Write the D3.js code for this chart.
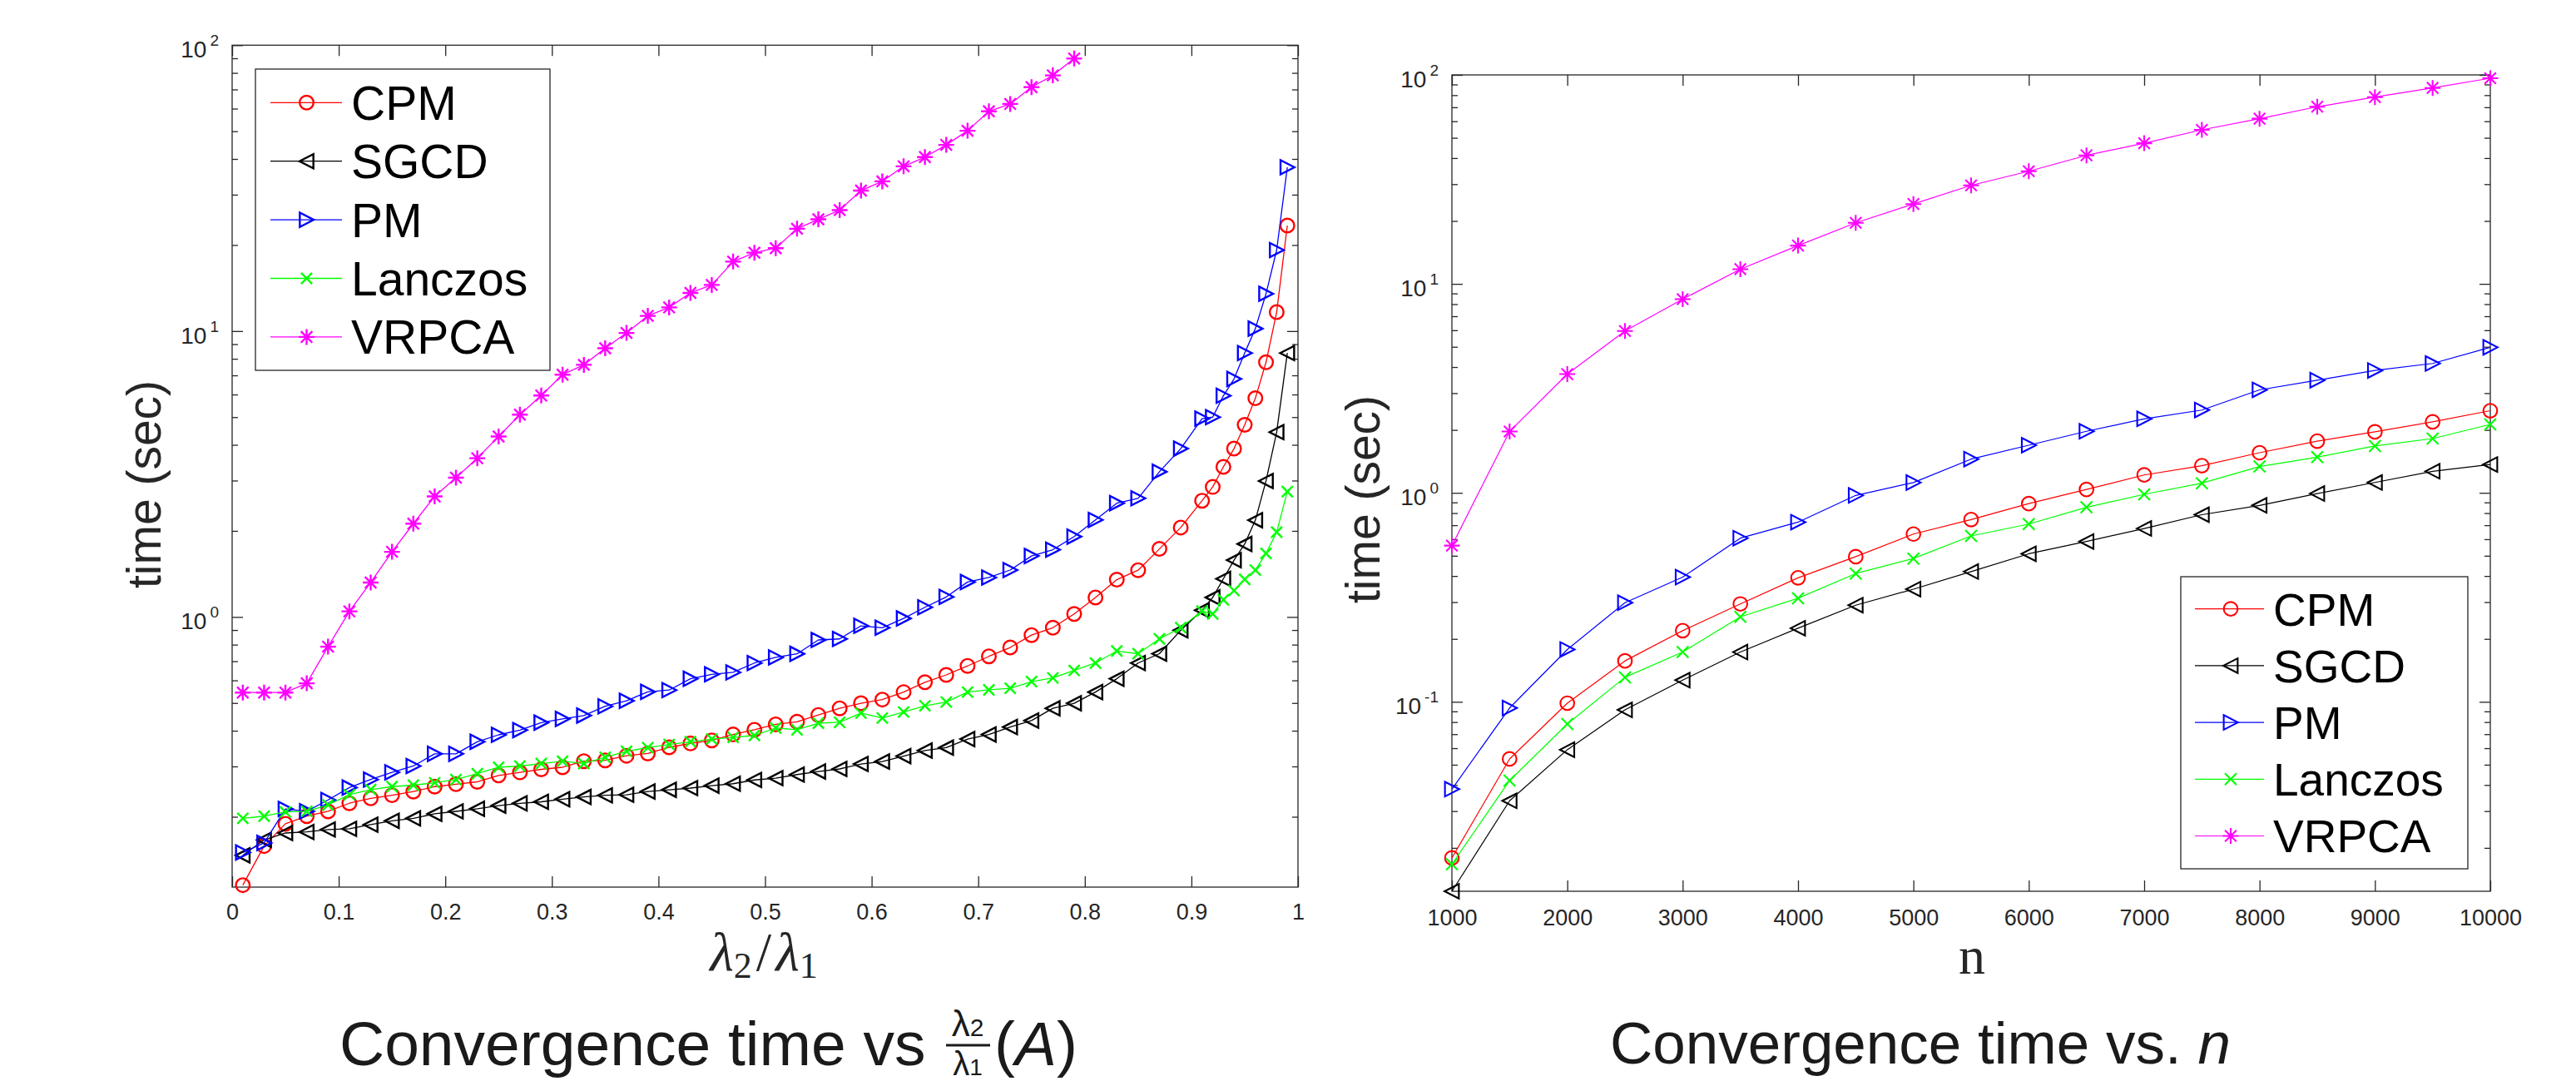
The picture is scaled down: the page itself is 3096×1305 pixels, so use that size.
<!DOCTYPE html>
<html>
<head>
<meta charset="utf-8">
<script src="https://cdn.jsdelivr.net/npm/d3@7"></script>
<style>
html,body{margin:0;padding:0;background:#fff;}
svg{display:block;}
text{font-family:"Liberation Sans",Arial,Helvetica,sans-serif;}
</style>
</head>
<body>
<svg id="chart" width="3096" height="1305" xmlns="http://www.w3.org/2000/svg"></svg>
<script>
// ---------------- data ----------------
const seriesNames = ["CPM", "SGCD", "PM", "Lanczos", "VRPCA"];
const seriesColors = ["#ff0000", "#000000", "#0000ff", "#00ff00", "#ff00ff"];
const seriesMarkers = ["circle", "triLeft", "triRight", "cross", "star"];

// left panel: x = lambda2/lambda1
const ratio = [0.01,0.03,0.05,0.07,0.09,0.11,0.13,0.15,0.17,0.19,0.21,0.23,0.25,0.27,0.29,0.31,0.33,0.35,0.37,0.39,
  0.41,0.43,0.45,0.47,0.49,0.51,0.53,0.55,0.57,0.59,0.61,0.63,0.65,0.67,0.69,0.71,0.73,0.75,0.77,0.79,
  0.81,0.83,0.85,0.87,0.89,0.91,0.92,0.93,0.94,0.95,0.96,0.97,0.98,0.99];
const ratioCPM = [0.1153,0.158,0.189,0.201,0.209,0.223,0.232,0.238,0.245,0.255,0.260,0.265,0.279,0.286,0.293,0.298,0.313,0.315,0.327,0.333,
  0.350,0.361,0.370,0.388,0.403,0.421,0.430,0.454,0.479,0.499,0.514,0.546,0.591,0.627,0.674,0.728,0.782,0.864,0.917,1.024,
  1.17,1.35,1.457,1.73,2.055,2.55,2.85,3.35,3.88,4.70,5.82,7.78,11.65,23.4];
const ratioSGCD = [0.1466,0.166,0.1755,0.177,0.1805,0.1815,0.1877,0.1936,0.1975,0.2048,0.2089,0.2133,0.2188,0.2228,0.2256,0.2304,0.2346,0.2377,0.2388,0.2451,
  0.2485,0.252,0.257,0.261,0.269,0.273,0.281,0.288,0.294,0.306,0.312,0.326,0.341,0.349,0.374,0.388,0.412,0.434,0.479,0.499,
  0.546,0.608,0.690,0.744,0.898,1.056,1.17,1.36,1.58,1.80,2.18,2.99,4.43,8.38];
const ratioPM = [0.150,0.162,0.213,0.209,0.229,0.253,0.270,0.286,0.301,0.332,0.332,0.366,0.387,0.402,0.427,0.440,0.452,0.487,0.509,0.547,
  0.555,0.608,0.630,0.640,0.690,0.722,0.743,0.831,0.838,0.931,0.917,0.988,1.081,1.175,1.325,1.374,1.459,1.634,1.719,1.91,
  2.185,2.5,2.6,3.22,3.88,4.94,5.0,5.94,6.80,8.38,10.2,13.5,19.2,37.4];
const ratioLanczos = [0.1975,0.201,0.208,0.209,0.220,0.239,0.249,0.255,0.258,0.263,0.270,0.283,0.298,0.301,0.307,0.313,0.307,0.323,0.339,0.349,
  0.358,0.366,0.374,0.379,0.385,0.409,0.403,0.425,0.428,0.461,0.443,0.465,0.489,0.504,0.546,0.556,0.563,0.594,0.612,0.650,
  0.690,0.760,0.744,0.838,0.917,1.049,1.024,1.148,1.237,1.353,1.458,1.668,1.98,2.745];
const ratioVRPCA = [0.544,0.544,0.544,0.586,0.787,1.046,1.32,1.69,2.12,2.64,3.07,3.59,4.28,5.1,5.95,7.04,7.62,8.71,9.85,11.3,
  12.1,13.6,14.5,17.5,18.8,19.5,22.8,24.6,26.5,31.0,33.4,37.7,40.6,44.8,50.2,58.7,62.3,71.3,78.4,89.8];

// right panel: x = n
const dimN = [1000,1500,2000,2500,3000,3500,4000,4500,5000,5500,6000,6500,7000,7500,8000,8500,9000,9500,10000];
const dimCPM = [0.0179,0.0533,0.0985,0.157,0.219,0.294,0.392,0.495,0.635,0.745,0.888,1.038,1.218,1.349,1.556,1.768,1.958,2.187,2.472];
const dimSGCD = [0.0124,0.0336,0.059,0.0915,0.127,0.173,0.225,0.290,0.346,0.420,0.511,0.585,0.675,0.786,0.871,0.992,1.121,1.268,1.366];
const dimPM = [0.0382,0.0934,0.178,0.298,0.395,0.607,0.724,0.972,1.12,1.45,1.69,1.97,2.26,2.49,3.11,3.46,3.85,4.16,4.97];
const dimLanczos = [0.0167,0.042,0.0783,0.131,0.173,0.255,0.313,0.411,0.485,0.622,0.709,0.853,0.984,1.112,1.337,1.482,1.676,1.819,2.126];
const dimVRPCA = [0.559,1.966,3.70,5.95,8.45,11.76,15.25,19.6,24.1,29.6,34.6,41.2,47.1,54.6,61.7,70.4,78.3,86.6,96.4];

// ticks
const ratioTicks = [0,0.1,0.2,0.3,0.4,0.5,0.6,0.7,0.8,0.9,1];
const ratioTickLabels = ["0","0.1","0.2","0.3","0.4","0.5","0.6","0.7","0.8","0.9","1"];
const dimTicks = [1000,2000,3000,4000,5000,6000,7000,8000,9000,10000];
const dimTickLabels = ["1000","2000","3000","4000","5000","6000","7000","8000","9000","10000"];
const leftYTicks = [1,10,100];
const leftYExp = ["0","1","2"];
const rightYTicks = [0.1,1,10,100];
const rightYExp = ["-1","0","1","2"];

// ---------------- drawing ----------------
const svg = d3.select("#chart");
const AX = "#262626";

const markerShape = {
  circle: s => d3.symbol(d3.symbolCircle, Math.PI * s * s)(),
  triLeft: s => `M${-s},0L${s * 0.95},${-s}L${s * 0.95},${s}Z`,
  triRight: s => `M${s},0L${-s * 0.95},${-s}L${-s * 0.95},${s}Z`,
  cross: s => `M${-s},${-s}L${s},${s}M${-s},${s}L${s},${-s}`,
  star: s => { const d = s * 0.72; return `M${-s},0L${s},0M0,${-s}L0,${s}M${-d},${-d}L${d},${d}M${-d},${d}L${d},${-d}`; }
};

function drawPanel(p) {
  const x = p.x, y = p.y;
  const [xl, xr] = x.range();
  const [yb, yt] = y.range();
  const g = svg.append("g");

  const axStyle = sel => {
    sel.select(".domain").remove();
    sel.selectAll("line").attr("stroke", AX).attr("stroke-width", 1.3);
    sel.selectAll("text").attr("fill", AX).style("font-size", p.tickFont + "px")
      .style("font-family", "'Liberation Sans', Arial, sans-serif");
  };
  const none = () => "";

  g.append("g").attr("transform", `translate(0,${yb})`)
    .call(d3.axisBottom(x).tickValues(p.xTicks).tickFormat((d, i) => p.xTickLabels[i])
      .tickSizeInner(-13).tickSizeOuter(0).tickPadding(p.xPad)).call(axStyle);
  g.append("g").attr("transform", `translate(0,${yt})`)
    .call(d3.axisTop(x).tickValues(p.xTicks).tickFormat(none).tickSizeInner(-13).tickSizeOuter(0)).call(axStyle);

  const [d0, d1] = y.domain();
  const major = p.yTicks.filter(t => t >= d0 && t <= d1);
  const minor = y.ticks().filter(v => !p.yTicks.some(t => Math.abs(t - v) / t < 1e-6));
  [[d3.axisLeft, xl], [d3.axisRight, xr]].forEach(([mk, xp]) => {
    g.append("g").attr("transform", `translate(${xp},0)`)
      .call(mk(y).tickValues(major).tickFormat(none).tickSizeInner(-13).tickSizeOuter(0)).call(axStyle);
    g.append("g").attr("transform", `translate(${xp},0)`)
      .call(mk(y).tickValues(minor).tickFormat(none).tickSizeInner(-7).tickSizeOuter(0)).call(axStyle);
  });
  g.append("rect").attr("x", xl).attr("y", yt).attr("width", xr - xl).attr("height", yb - yt)
    .attr("fill", "none").attr("stroke", AX).attr("stroke-width", 1.3);

  // y tick labels 10^k
  p.yTicks.forEach((t, i) => {
    const yy = y(t);
    const e = g.append("text").attr("x", xl - 16).attr("y", yy + 1).attr("text-anchor", "end")
      .style("font-size", "19px").attr("fill", AX).text(p.yExp[i]);
    const w = e.node().getComputedTextLength();
    g.append("text").attr("x", xl - 16 - w - 4).attr("y", yy + 15).attr("text-anchor", "end")
      .style("font-size", p.yFont + "px").attr("fill", AX).text("10");
  });

  // series
  const line = d3.line().x(d => x(d[0])).y(d => y(d[1]));
  p.series.forEach((vals, i) => {
    const pts = vals.map((v, j) => [p.xs[j], v]);
    g.append("path").datum(pts).attr("fill", "none").attr("stroke", seriesColors[i])
      .attr("stroke-width", p.lw).attr("stroke-linejoin", "round").attr("d", line);
    g.append("g").selectAll("path").data(pts).join("path")
      .attr("transform", d => `translate(${x(d[0])},${y(d[1])})`)
      .attr("d", markerShape[seriesMarkers[i]](p.ms[i]))
      .attr("fill", "none").attr("stroke", seriesColors[i]).attr("stroke-width", p.mw)
      .attr("stroke-linejoin", "miter");
  });

  // legend
  const L = p.legend;
  const lg = svg.append("g");
  lg.append("rect").attr("x", L.x0).attr("y", L.y0).attr("width", L.x1 - L.x0).attr("height", L.y1 - L.y0)
    .attr("fill", "#fff").attr("stroke", AX).attr("stroke-width", 1.3);
  seriesNames.forEach((name, i) => {
    const ry = L.firstY + i * L.step;
    lg.append("line").attr("x1", L.x0 + L.lineA).attr("x2", L.x0 + L.lineB).attr("y1", ry).attr("y2", ry)
      .attr("stroke", seriesColors[i]).attr("stroke-width", p.lw);
    lg.append("path").attr("transform", `translate(${L.x0 + L.mark},${ry})`)
      .attr("d", markerShape[seriesMarkers[i]](p.ms[i])).attr("fill", "none")
      .attr("stroke", seriesColors[i]).attr("stroke-width", p.mw);
    lg.append("text").attr("x", L.x0 + L.textX).attr("y", ry + L.font * 0.36)
      .style("font-size", L.font + "px").attr("fill", "#000").text(name);
  });
}

// left panel
const xL = d3.scaleLinear().domain([0, 1]).range([279, 1560]);
const yL = d3.scaleLog().domain([0.1135, 100]).range([1066, 54.3]);
drawPanel({
  x: xL, y: yL, xs: ratio,
  series: [ratioCPM, ratioSGCD, ratioPM, ratioLanczos, ratioVRPCA],
  xTicks: ratioTicks, xTickLabels: ratioTickLabels, xPad: 20, tickFont: 27, yFont: 28,
  yTicks: leftYTicks, yExp: leftYExp,
  lw: 1.3, mw: 2.4, ms: [8.3, 8.6, 8.6, 6.6, 9.5],
  legend: { x0: 307, y0: 83, x1: 661, y1: 445, firstY: 123.3, step: 70.4, lineA: 18, lineB: 104, mark: 61.5, textX: 115, font: 57 }
});

// right panel
const xR = d3.scaleLinear().domain([1000, 10000]).range([1745, 2993]);
const yR = d3.scaleLog().domain([0.0124, 100]).range([1071, 90]);
drawPanel({
  x: xR, y: yR, xs: dimN,
  series: [dimCPM, dimSGCD, dimPM, dimLanczos, dimVRPCA],
  xTicks: dimTicks, xTickLabels: dimTickLabels, xPad: 22, tickFont: 27, yFont: 28,
  yTicks: rightYTicks, yExp: rightYExp,
  lw: 1.2, mw: 2.1, ms: [8.3, 8.8, 8.8, 7, 9.5],
  legend: { x0: 2621, y0: 693, x1: 2966, y1: 1044, firstY: 731.7, step: 68.2, lineA: 17, lineB: 100, mark: 60, textX: 111, font: 55 }
});

// axis labels
svg.append("text").attr("transform", "translate(193,582) rotate(-90)").attr("text-anchor", "middle")
  .style("font-size", "57px").attr("fill", AX).text("time (sec)");
svg.append("text").attr("transform", "translate(1658,600) rotate(-90)").attr("text-anchor", "middle")
  .style("font-size", "57px").attr("fill", AX).text("time (sec)");

const xlab = svg.append("text").attr("x", 918).attr("y", 1166).attr("text-anchor", "middle")
  .style("font-family", "'Liberation Serif', 'DejaVu Serif', serif").style("font-size", "66px").attr("fill", AX);
xlab.append("tspan").style("font-style", "italic").text("λ");
xlab.append("tspan").attr("dy", 9).style("font-size", "44px").text("2");
xlab.append("tspan").attr("dy", -9).attr("dx", 5).text("/");
xlab.append("tspan").attr("dx", 5).style("font-style", "italic").text("λ");
xlab.append("tspan").attr("dy", 9).style("font-size", "44px").text("1");

svg.append("text").attr("x", 2370).attr("y", 1170).attr("text-anchor", "middle")
  .style("font-family", "'Liberation Serif', 'DejaVu Serif', serif").style("font-size", "64px").attr("fill", AX).text("n");

// captions
const CAP = "#1a1a1a";
svg.append("text").attr("x", 408).attr("y", 1280).style("font-size", "75px").attr("fill", CAP).text("Convergence time vs");
const num = svg.append("text").attr("x", 1163).attr("y", 1245).attr("text-anchor", "middle").style("font-size", "44px").attr("fill", CAP);
num.append("tspan").text("λ");
num.append("tspan").style("font-size", "30px").text("2");
svg.append("line").attr("x1", 1137).attr("x2", 1190).attr("y1", 1256).attr("y2", 1256).attr("stroke", CAP).attr("stroke-width", 3);
const den = svg.append("text").attr("x", 1163).attr("y", 1292).attr("text-anchor", "middle").style("font-size", "40px").attr("fill", CAP);
den.append("tspan").text("λ");
den.append("tspan").style("font-size", "28px").text("1");
const capA = svg.append("text").attr("x", 1195).attr("y", 1280).style("font-size", "75px").attr("fill", CAP);
capA.append("tspan").text("(");
capA.append("tspan").style("font-style", "italic").text("A");
capA.append("tspan").text(")");

const capR = svg.append("text").attr("x", 1935).attr("y", 1278).style("font-size", "71px").attr("fill", CAP);
capR.append("tspan").text("Convergence time vs. ");
capR.append("tspan").style("font-style", "italic").text("n");
</script>
</body>
</html>
